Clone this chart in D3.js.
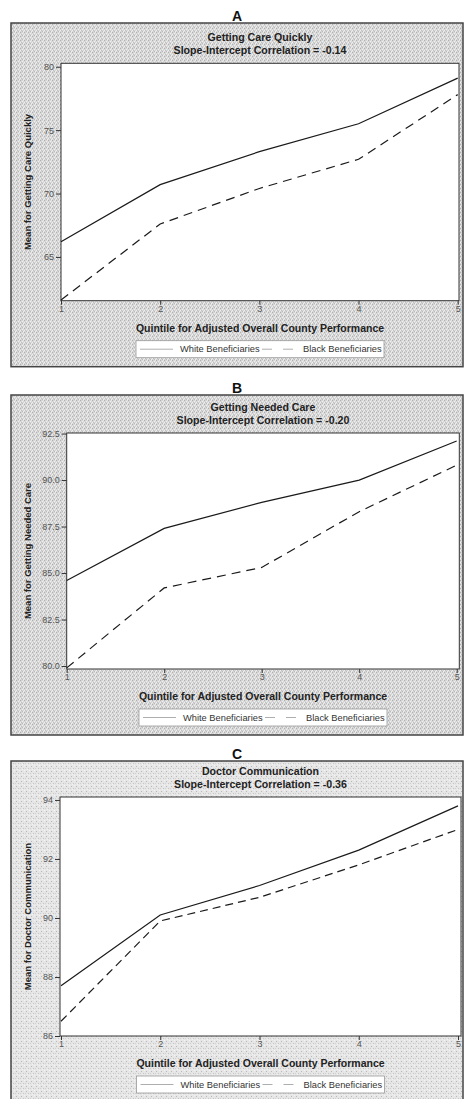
<!DOCTYPE html>
<html>
<head>
<meta charset="utf-8">
<script src="https://cdn.jsdelivr.net/npm/d3@7"></script>
<style>
  body { margin: 0; background: #fff; }
  svg { display: block; }
  text { font-family: "Liberation Sans", Arial, Helvetica, sans-serif; }
</style>
</head>
<body>
<div id="chart-area"></div>
<script>
// data
const quintiles = [1, 2, 3, 4, 5]
const panelLetters = ["A", "B", "C"]
const panelTitles = ["Getting Care Quickly", "Getting Needed Care", "Doctor Communication"]
const correlations = ["-0.14", "-0.20", "-0.36"]
const yLabels = ["Mean for Getting Care Quickly", "Mean for Getting Needed Care", "Mean for Doctor Communication"]
const xLabel = "Quintile for Adjusted Overall County Performance"
const seriesNames = ["White Beneficiaries", "Black Beneficiaries"]

const careQuicklyWhite = [66.2, 70.7, 73.3, 75.5, 79.1]
const careQuicklyBlack = [61.6, 67.6, 70.4, 72.7, 77.8]
const neededCareWhite = [84.6, 87.4, 88.8, 90.0, 92.1]
const neededCareBlack = [79.9, 84.2, 85.3, 88.3, 90.8]
const doctorWhite = [87.7, 90.1, 91.1, 92.3, 93.8]
const doctorBlack = [86.5, 89.9, 90.7, 91.8, 93.0]

const yTicksA = [65, 70, 75, 80]
const yTicksB = [80.0, 82.5, 85.0, 87.5, 90.0, 92.5]
const yTicksC = [86, 88, 90, 92, 94]
const yDomainA = [61.55, 80.27]
const yDomainB = [79.84, 92.53]
const yDomainC = [86.0, 94.1]

const W = 465, H = 1099
const FRAME = { LEFT: 11, RIGHT: 463 }

// per panel layout
const panels = [
  { white: careQuicklyWhite, black: careQuicklyBlack, ticks: yTicksA, domain: yDomainA, fmt: "d",
    frameTop: 23, plotTop: 63.3, plotBottom: 300.7, plotLeft: 61, plotRight: 459, xLeft: 61, xRight: 457.7,
    tex: "texAB", dash: "9,6" },
  { white: neededCareWhite, black: neededCareBlack, ticks: yTicksB, domain: yDomainB, fmt: ".1f",
    frameTop: 395, plotTop: 433, plotBottom: 669, plotLeft: 66.7, plotRight: 459.3, xLeft: 66.7, xRight: 456.7,
    tex: "texAB", dash: "9,6" },
  { white: doctorWhite, black: doctorBlack, ticks: yTicksC, domain: yDomainC, fmt: "d",
    frameTop: 761, plotTop: 797, plotBottom: 1036, plotLeft: 60, plotRight: 461, xLeft: 61, xRight: 458,
    tex: "texC", dash: "8,5" }
]

const svg = d3.select("#chart-area").append("svg")
  .attr("width", W)
  .attr("height", H)

// stippled backgrounds
const defs = svg.append("defs")
const texAB = defs.append("pattern")
  .attr("id", "texAB")
  .attr("width", 4).attr("height", 4)
  .attr("patternUnits", "userSpaceOnUse")
texAB.append("rect").attr("width", 4).attr("height", 4).attr("fill", "#d6d6d6")
;[[0, 0, "#b0b0b0"], [2, 1, "#efefef"], [1, 2, "#c0c0c0"], [3, 3, "#eeeeee"], [2, 3, "#bababa"], [0, 2, "#f0f0f0"], [3, 0, "#e6e6e6"]]
  .forEach(p => texAB.append("rect").attr("x", p[0]).attr("y", p[1]).attr("width", 1).attr("height", 1).attr("fill", p[2]))

const texC = defs.append("pattern")
  .attr("id", "texC")
  .attr("width", 5).attr("height", 5)
  .attr("patternUnits", "userSpaceOnUse")
texC.append("rect").attr("width", 5).attr("height", 5).attr("fill", "#e6e6e6")
;[[1, 1, "#b8b8b8"], [3, 3, "#c6c6c6"], [4, 0, "#f4f4f4"], [0, 3, "#d0d0d0"], [2, 4, "#f2f2f2"]]
  .forEach(p => texC.append("rect").attr("x", p[0]).attr("y", p[1]).attr("width", 1).attr("height", 1).attr("fill", p[2]))

panels.forEach((p, i) => {
  const frameBottom = i === 2 ? H + 2 : p.plotBottom + 66
  const g = svg.append("g").attr("class", "panel")

  // panel letter
  g.append("text")
    .attr("x", (FRAME.LEFT + FRAME.RIGHT) / 2)
    .attr("y", p.frameTop - 2)
    .attr("text-anchor", "middle")
    .attr("font-size", "14px")
    .attr("font-weight", "bold")
    .attr("fill", "#111")
    .text(panelLetters[i])

  // frame
  g.append("rect")
    .attr("x", FRAME.LEFT)
    .attr("y", p.frameTop)
    .attr("width", FRAME.RIGHT - FRAME.LEFT)
    .attr("height", frameBottom - p.frameTop)
    .attr("fill", `url(#${p.tex})`)
    .attr("stroke", "#444")
    .attr("stroke-width", 1.5)

  // plot area
  g.append("rect")
    .attr("x", p.plotLeft)
    .attr("y", p.plotTop)
    .attr("width", p.plotRight - p.plotLeft)
    .attr("height", p.plotBottom - p.plotTop)
    .attr("fill", "#fff")
    .attr("stroke", "#333")
    .attr("stroke-width", 1)

  const cx = (p.plotLeft + p.plotRight) / 2

  // titles
  g.append("text")
    .attr("x", cx).attr("y", p.plotTop - 22)
    .attr("text-anchor", "middle")
    .attr("font-size", "10.6px").attr("font-weight", "bold").attr("fill", "#222")
    .text(panelTitles[i])
  g.append("text")
    .attr("x", cx).attr("y", p.plotTop - 9)
    .attr("text-anchor", "middle")
    .attr("font-size", "10.6px").attr("font-weight", "bold").attr("fill", "#222")
    .text(`Slope-Intercept Correlation = ${correlations[i]}`)

  // scales
  const x = d3.scaleLinear().domain([1, 5]).range([p.xLeft, p.xRight])
  const y = d3.scaleLinear().domain(p.domain).range([p.plotBottom, p.plotTop])

  // axes
  const yAxis = g.append("g")
    .attr("transform", `translate(${p.plotLeft}, 0)`)
    .call(d3.axisLeft(y).tickValues(p.ticks).tickSize(5).tickPadding(2).tickFormat(d3.format(p.fmt)))
  const xAxis = g.append("g")
    .attr("transform", `translate(0, ${p.plotBottom})`)
    .call(d3.axisBottom(x).tickValues(quintiles).tickSize(4).tickPadding(1).tickFormat(d3.format("d")))
  ;[yAxis, xAxis].forEach(a => {
    a.select(".domain").remove()
    a.selectAll(".tick line").attr("stroke", "#333")
    a.selectAll(".tick text")
      .attr("font-size", "9px")
      .attr("fill", "#555")
      .style("font-family", "'Liberation Sans', Arial, sans-serif")
  })

  // axis labels
  g.append("text")
    .attr("x", cx).attr("y", p.plotBottom + 31)
    .attr("text-anchor", "middle")
    .attr("font-size", "10.5px").attr("font-weight", "bold").attr("fill", "#222")
    .text(xLabel)
  g.append("text")
    .attr("transform", `translate(31, ${(p.plotTop + p.plotBottom) / 2}) rotate(-90)`)
    .attr("text-anchor", "middle")
    .attr("font-size", "9.5px").attr("font-weight", "bold").attr("fill", "#222")
    .text(yLabels[i])

  // lines
  const line = d3.line()
    .x((d, j) => x(quintiles[j]))
    .y(d => y(d))
  g.append("path")
    .attr("d", line(p.white))
    .attr("fill", "none")
    .attr("stroke", "#1a1a1a")
    .attr("stroke-width", 1.2)
  g.append("path")
    .attr("d", line(p.black))
    .attr("fill", "none")
    .attr("stroke", "#1a1a1a")
    .attr("stroke-width", 1.2)
    .attr("stroke-dasharray", p.dash)

  // legend
  const lw = 248, lh = 17
  const lx = cx - lw / 2, ly = p.plotBottom + 40
  const lg = g.append("g").attr("transform", `translate(${lx}, ${ly})`)
  lg.append("rect")
    .attr("width", lw).attr("height", lh)
    .attr("fill", "#fff").attr("stroke", "#999").attr("stroke-width", 0.8)
  lg.append("line")
    .attr("x1", 4).attr("x2", 37).attr("y1", lh / 2).attr("y2", lh / 2)
    .attr("stroke", "#999").attr("stroke-width", 0.8)
  lg.append("text")
    .attr("x", 44).attr("y", lh / 2 + 3.3)
    .attr("font-size", "9.3px").attr("fill", "#333")
    .text(seriesNames[0])
  lg.append("line")
    .attr("x1", 126).attr("x2", 157).attr("y1", lh / 2).attr("y2", lh / 2)
    .attr("stroke", "#999").attr("stroke-width", 0.8)
    .attr("stroke-dasharray", "10,11")
  lg.append("text")
    .attr("x", 167).attr("y", lh / 2 + 3.3)
    .attr("font-size", "9.3px").attr("fill", "#333")
    .text(seriesNames[1])
})
</script>
</body>
</html>
